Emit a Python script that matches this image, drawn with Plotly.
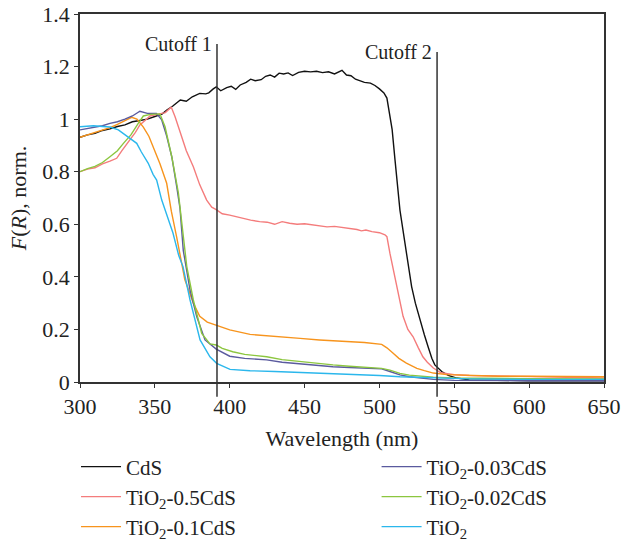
import plotly.graph_objects as go

# ---- data ----
cds_x = [300, 305, 310, 315, 320, 325, 330, 335, 340, 345, 350, 355, 358, 362, 367, 371, 375, 380, 384, 386, 389, 391, 394, 398, 401, 404, 407, 411, 414, 417, 421, 424, 427, 430, 433, 436, 439, 442, 446, 450, 454, 458, 462, 466, 470, 473, 475, 478, 481, 484, 487, 490, 494, 497, 500, 503, 505, 507, 508.5, 510.4, 512, 513.7, 517, 521.5, 524, 527, 530, 532.5, 535, 537, 541.6, 546, 551.6, 560, 575, 600, 625, 650]
cds_y = [0.931, 0.94, 0.946, 0.957, 0.963, 0.972, 0.978, 0.99, 0.995, 1.0, 1.01, 1.02, 1.035, 1.05, 1.073, 1.068, 1.085, 1.098, 1.096, 1.1, 1.115, 1.123, 1.108, 1.12, 1.125, 1.113, 1.13, 1.14, 1.152, 1.146, 1.15, 1.163, 1.168, 1.16, 1.175, 1.172, 1.176, 1.166, 1.178, 1.182, 1.18, 1.182, 1.177, 1.18, 1.172, 1.182, 1.186, 1.168, 1.165, 1.152, 1.145, 1.14, 1.137, 1.128, 1.115, 1.10, 1.08, 1.0, 0.96, 0.845, 0.75, 0.654, 0.53, 0.363, 0.30, 0.236, 0.18, 0.134, 0.09, 0.065, 0.04, 0.025, 0.015, 0.008, 0.006, 0.005, 0.005, 0.005]

r05_x = [300, 305, 310, 315, 320, 324.5, 328, 333.4, 337, 340, 346.8, 353, 357, 360, 361, 363.5, 367, 369, 371, 375.7, 380, 384.6, 388, 391, 395, 400, 405, 410, 414, 420, 425, 430, 435, 440, 445, 450, 455, 460, 465, 470, 475, 480, 485, 488, 491, 495, 500, 503.7, 505, 507, 510.4, 513.7, 515.8, 519, 522.5, 526, 529, 532, 536, 541, 550, 560, 580, 600, 625, 650]
r05_y = [0.80, 0.81, 0.815, 0.83, 0.84, 0.851, 0.88, 0.92, 0.95, 0.978, 1.012, 1.02, 1.025, 1.041, 1.045, 1.009, 0.95, 0.92, 0.88, 0.819, 0.75, 0.692, 0.665, 0.656, 0.64, 0.635, 0.628, 0.62, 0.616, 0.61, 0.608, 0.60, 0.61, 0.604, 0.60, 0.602, 0.598, 0.595, 0.59, 0.592, 0.588, 0.586, 0.58, 0.575, 0.578, 0.572, 0.568, 0.56, 0.553, 0.49, 0.40, 0.31, 0.25, 0.20, 0.172, 0.13, 0.096, 0.075, 0.053, 0.035, 0.028, 0.025, 0.022, 0.02, 0.018, 0.015]

r01_x = [300, 305, 310, 315, 320, 325, 330, 334.5, 338, 342.3, 346, 349, 353.4, 357.9, 361, 364.6, 367, 370, 375.7, 380, 385, 391, 400, 413.6, 425, 435, 447, 460, 470, 480, 490, 501.5, 505, 509, 513, 518, 525, 530, 536, 545, 560, 580, 600, 625, 650]
r01_y = [0.931, 0.94, 0.952, 0.96, 0.968, 0.98, 0.995, 1.007, 1.0, 0.97, 0.935, 0.895, 0.83, 0.756, 0.65, 0.55, 0.48, 0.39, 0.30, 0.25, 0.228, 0.217, 0.198, 0.181, 0.175, 0.17, 0.166, 0.16, 0.157, 0.153, 0.15, 0.143, 0.13, 0.11, 0.09, 0.072, 0.052, 0.043, 0.034, 0.028, 0.025, 0.022, 0.022, 0.02, 0.02]

r003_x = [300, 305, 310, 315, 320, 325, 330, 335, 340, 345, 351, 354.6, 357.9, 361.3, 364.6, 366.8, 369, 373.5, 378, 383.5, 391, 400, 410, 424.7, 435, 447, 458, 469, 480, 490, 501.5, 507, 513.7, 520, 530, 536, 550, 575, 600, 650]
r003_y = [0.959, 0.965, 0.97, 0.975, 0.984, 0.99, 1.0, 1.012, 1.03, 1.022, 1.022, 0.997, 0.936, 0.857, 0.743, 0.66, 0.50, 0.35, 0.248, 0.16, 0.125, 0.098, 0.09, 0.084, 0.075, 0.068, 0.063, 0.058, 0.055, 0.052, 0.05, 0.04, 0.027, 0.02, 0.012, 0.01, 0.006, 0.005, 0.005, 0.005]

r002_x = [300, 305, 310, 315, 320, 325, 329, 334, 338.9, 342.3, 347, 353.4, 356.8, 361.3, 365.7, 367, 369, 371.3, 375.7, 381.3, 386.8, 391, 395, 402, 410, 424.7, 435, 447, 458, 469, 480, 490, 501.5, 507, 513.7, 520, 536, 550, 575, 600, 650]
r002_y = [0.80, 0.812, 0.82, 0.835, 0.857, 0.88, 0.908, 0.94, 0.984, 1.012, 1.018, 1.02, 0.971, 0.857, 0.72, 0.65, 0.56, 0.44, 0.312, 0.185, 0.145, 0.141, 0.128, 0.115, 0.105, 0.096, 0.085, 0.077, 0.07, 0.065, 0.06, 0.056, 0.052, 0.045, 0.033, 0.026, 0.018, 0.015, 0.013, 0.013, 0.012]

tio2_x = [300, 305, 309, 315, 320, 325.6, 330, 333, 337.9, 341, 345.6, 348.8, 351.2, 354.6, 360.1, 362.1, 366, 368.8, 373.5, 380.2, 386.8, 391.3, 400.2, 413.6, 430, 447, 465, 480, 500, 513.7, 536, 560, 600, 650]
tio2_y = [0.971, 0.974, 0.975, 0.972, 0.97, 0.959, 0.94, 0.928, 0.908, 0.875, 0.832, 0.79, 0.768, 0.692, 0.604, 0.567, 0.48, 0.439, 0.312, 0.16, 0.096, 0.071, 0.048, 0.043, 0.04, 0.037, 0.033, 0.029, 0.025, 0.02, 0.015, 0.012, 0.01, 0.01]

cutoff_x = [391.5, 538.5]
cutoff_top = [1.286, 1.255]
cutoff_labels = ["Cutoff 1", "Cutoff 2"]

x_ticks = [300, 350, 400, 450, 500, 550, 600, 650]
y_ticks = [0, 0.2, 0.4, 0.6, 0.8, 1, 1.2, 1.4]

# name, x, y, colour, legend slot (column, row)
series = [
    ("CdS", cds_x, cds_y, "#111111", (0, 0)),
    ("TiO<sub>2</sub>-0.5CdS", r05_x, r05_y, "#F47C7C", (0, 1)),
    ("TiO<sub>2</sub>-0.1CdS", r01_x, r01_y, "#F7941D", (0, 2)),
    ("TiO<sub>2</sub>-0.03CdS", r003_x, r003_y, "#5A5A9E", (1, 0)),
    ("TiO<sub>2</sub>-0.02CdS", r002_x, r002_y, "#8CC63F", (1, 1)),
    ("TiO<sub>2</sub>", tio2_x, tio2_y, "#2BB7EC", (1, 2)),
]

FONT = "Liberation Serif, Times New Roman, serif"
TXT = "#222222"
legend_col_x = [-0.0076, 0.566]
legend_row_y = [-0.231, -0.3125, -0.394]

fig = go.Figure()
legends = {}
for i, (name, xs, ys, col, (c, r)) in enumerate(series):
    key = "legend" if i == 0 else f"legend{i + 1}"
    fig.add_trace(go.Scatter(x=xs, y=ys, mode="lines", name=name,
                             line=dict(color=col, width=1.4), legend=key))
    legends[key] = dict(x=legend_col_x[c], xanchor="left", y=legend_row_y[r], yanchor="middle",
                        orientation="v", itemwidth=40, bgcolor="rgba(0,0,0,0)",
                        font=dict(family=FONT, size=21, color=TXT))

for cx, ct, lab in zip(cutoff_x, cutoff_top, cutoff_labels):
    fig.add_shape(type="line", xref="x", yref="y", x0=cx, x1=cx, y0=ct, y1=0,
                  line=dict(color="#333333", width=1.5))
    fig.add_shape(type="line", xref="x", yref="y domain", x0=cx, x1=cx, y0=0, y1=-0.04,
                  line=dict(color="#333333", width=1.5))
    fig.add_annotation(x=cx, y=ct, xref="x", yref="y", text=lab, showarrow=False,
                       xanchor="right", yanchor="middle", xshift=-3,
                       font=dict(family=FONT, size=20, color=TXT))

fig.update_layout(
    width=621, height=546,
    margin=dict(l=80, r=17, t=14, b=164, autoexpand=False),
    paper_bgcolor="white", plot_bgcolor="white",
    font=dict(family=FONT, size=21, color=TXT),
    showlegend=True,
    **legends,
)
fig.update_xaxes(range=[300, 650], tickvals=x_ticks, showgrid=False, zeroline=False,
                 showline=True, linecolor="#333333", linewidth=1.5, mirror=True,
                 ticks="outside", ticklen=4, tickcolor="#333333",
                 tickfont=dict(family=FONT, size=22, color=TXT),
                 title=dict(text="Wavelength (nm)", standoff=12,
                            font=dict(family=FONT, size=22, color=TXT)))
fig.update_yaxes(range=[0, 1.4], tickvals=y_ticks, showgrid=False, zeroline=False,
                 showline=True, linecolor="#333333", linewidth=1.5, mirror=True,
                 ticks="outside", ticklen=4, tickcolor="#333333",
                 tickfont=dict(family=FONT, size=22, color=TXT),
                 title=dict(text="<i>F</i>(<i>R</i>), norm.", standoff=10,
                            font=dict(family=FONT, size=22, color=TXT)))

fig.write_html("out.html", config={"displayModeBar": False},
               post_script="document.body.style.margin='0px';")
